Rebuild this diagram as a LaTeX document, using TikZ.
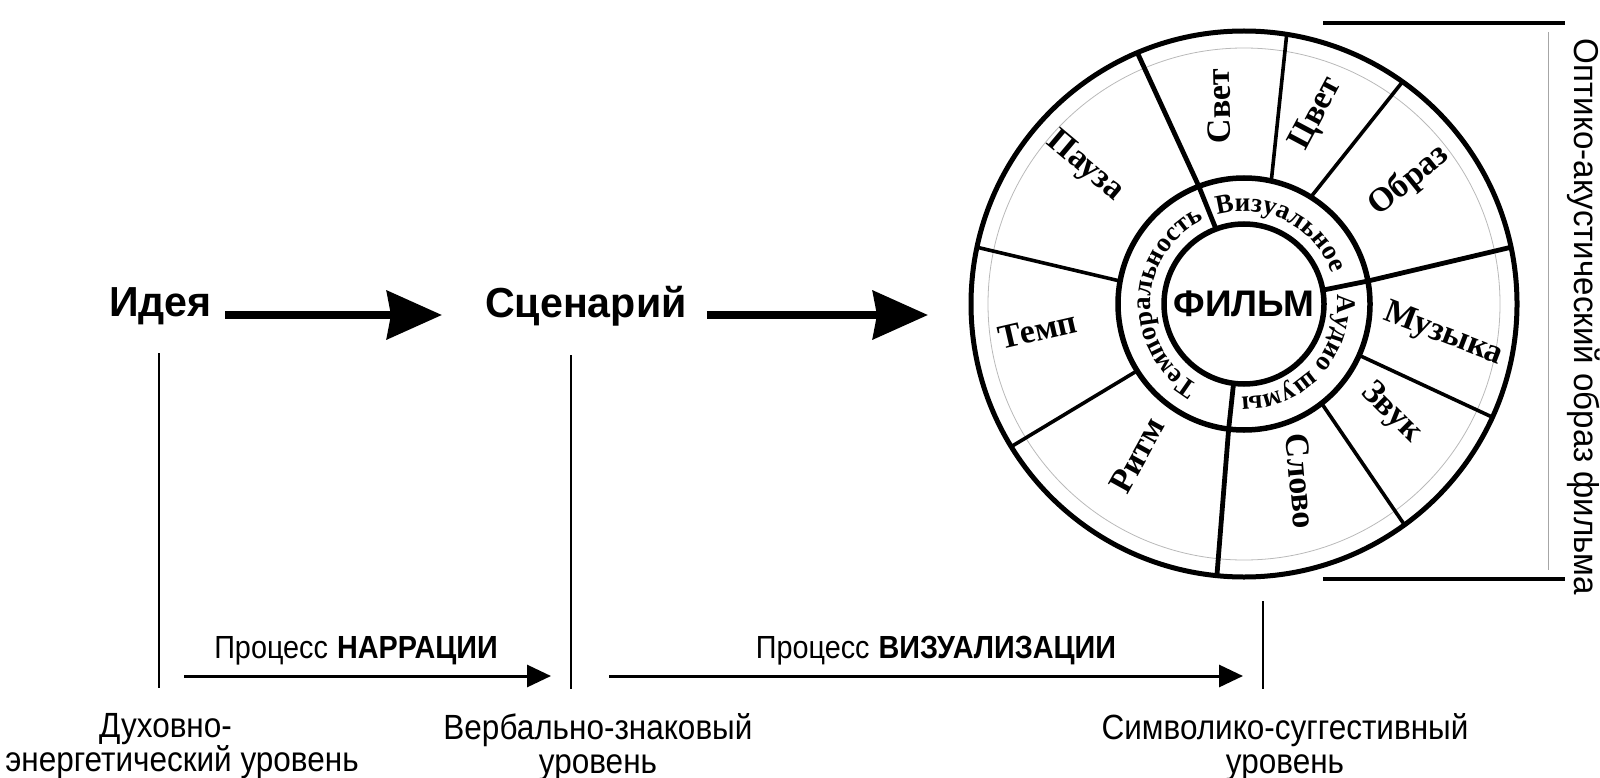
\documentclass[tikz,border=0pt]{standalone}
\usepackage{fontspec}
\setmainfont{Liberation Serif}
\newfontfamily\headsans[FakeStretch=0.98]{Liberation Sans}
\newfontfamily\plainsans{Liberation Sans}
\newfontfamily\vertsans[FakeStretch=0.96]{Liberation Sans}
\newfontfamily\condsans[FakeStretch=0.9]{Liberation Sans}
\usetikzlibrary{arrows.meta,decorations.text}

\tikzset{
  bigarrow/.style={line width=8pt, -{Stealth[length=55pt,width=48pt,inset=4pt]}},
  thinarrow/.style={line width=3pt, -{Triangle[length=24pt,width=22pt]}},
  vline/.style={line width=2.8pt},
  heading/.style={font=\headsans\bfseries\fontsize{42}{46}\selectfont, inner sep=0pt},
  seglabel/.style={font=\bfseries\fontsize{34}{36}\selectfont, inner sep=0pt},
  levellabel/.style={font=\condsans\fontsize{35}{34}\selectfont, align=center, inner sep=0pt, anchor=north},
  proclabel/.style={font=\condsans\fontsize{32}{34}\selectfont, inner sep=0pt, anchor=base},
  ringtext/.style={decorate, decoration={text along path, text align=center,
      text={|\bfseries\fontsize{27}{29}\selectfont|#1}}},
  outdiv/.style={line width=3.6pt},
  indiv/.style={line width=4.8pt},
  bracketline/.style={line width=4pt},
}

\begin{document}
\begin{tikzpicture}[x=1pt,y=1pt]
\useasboundingbox (0,0) rectangle (1600,-778);
\coordinate (C) at (1244,-304);

% ---------- wheel ----------
\node[circle, draw, line width=5pt, minimum size=546pt, inner sep=0pt] (wheel) at (C) {};
\draw[gray!55, line width=0.8pt] (C) circle[radius=256];
\draw[line width=5.5pt] (C) circle[radius=126];
\node[circle, draw, line width=5.5pt, minimum size=160pt, inner sep=0pt,
      font=\plainsans\bfseries\fontsize{37}{40}\selectfont] (film) at (C) {ФИЛЬМ};

\begin{scope}[shift={(C)}]
  % dividers in the middle ring
  \draw[indiv] (110.5:80) -- (111:126);
  \draw[indiv] (10:80) -- (10.5:126);
  \draw[indiv] (-97.5:80) -- (-97:126);
  % dividers in the outer ring
  \draw[indiv]  (111:126) -- (113:273);
  \draw[outdiv] (77.5:126) -- (81:273);
  \draw[outdiv] (58:126) -- (54.5:273);
  \draw[indiv]  (10.5:126) -- (12:273);
  \draw[outdiv] (-24:126) -- (-24.5:273);
  \draw[outdiv] (-52:126) -- (-54:273);
  \draw[indiv]  (-97:126) -- (-95.7:273);
  \draw[outdiv] (212:126) -- (211.5:273);
  \draw[outdiv] (169.5:126) -- (168:273);
  % curved texts
  \path[ringtext=Визуальное] (123:93) arc[start angle=123, end angle=3, radius=93];
  \path[ringtext=Темпоральность] (271:93) arc[start angle=271, end angle=85, radius=93];
  \path[ringtext=Аудио шумы] (25:93) arc[start angle=25, end angle=-111, radius=93];
\end{scope}

% segment labels
\node[seglabel, rotate=91]  (svet)   at (1219,-106) {Свет};
\node[seglabel, rotate=62]  (cvet)   at (1317,-114) {Цвет};
\node[seglabel, rotate=39]  (obraz)  at (1409,-181) {Образ};
\node[seglabel, rotate=-21] (muzyka) at (1443,-335) {Музыка};
\node[seglabel, rotate=-45] (zvuk)   at (1391,-413) {Звук};
\node[seglabel, rotate=-85] (slovo)  at (1301,-481) {Слово};
\node[seglabel, rotate=61]  (ritm)   at (1137,-455) {Ритм};
\node[seglabel, rotate=13]  (temp)   at (1038,-330) {Темп};
\node[seglabel, rotate=-40] (pauza)  at (1085,-167) {Пауза};

% ---------- bracket at the right ----------
\coordinate (brTL) at (1323,-23);
\coordinate (brTR) at (1565,-23);
\coordinate (brBL) at (1323,-579);
\coordinate (brBR) at (1565,-579);
\draw[bracketline] (brTL) -- (brTR);
\draw[bracketline] (brBL) -- (brBR);
\coordinate (gT) at (1548,-32);
\coordinate (gB) at (1548,-570);
\draw[gray!70, line width=1pt] (gT) -- (gB);
\node[font=\vertsans\fontsize{34.5}{36}\selectfont, rotate=-90, inner sep=0pt] (optic) at (1584,-317)
  {Оптико-акустический образ фильма};

% ---------- headings and big arrows ----------
\node[heading, anchor=base west] (idea) at (109,-316) {Идея};
\node[heading, anchor=base west] (scen) at (485,-317) {Сценарий};
\coordinate (a2tip) at (928,-315);
\draw[bigarrow] ([xshift=13pt,yshift=1pt]idea.base east) -- ([xshift=-43pt,yshift=2pt]scen.base west);
\draw[bigarrow] ([xshift=20pt,yshift=2pt]scen.base east) -- (a2tip);

% ---------- vertical level lines ----------
\coordinate (v1t) at (159,-353);  \coordinate (v1b) at (159,-688);
\coordinate (v2t) at (571,-355);  \coordinate (v2b) at (571,-689);
\coordinate (v3t) at (1263,-601); \coordinate (v3b) at (1263,-689);
\draw[vline] (v1t) -- (v1b);
\draw[vline] (v2t) -- (v2b);
\draw[vline] (v3t) -- (v3b);

% ---------- process arrows ----------
\coordinate (p1s) at (184,-676);  \coordinate (p1e) at (551,-676);
\coordinate (p2s) at (609,-676);  \coordinate (p2e) at (1243,-676);
\draw[thinarrow] (p1s) -- (p1e);
\draw[thinarrow] (p2s) -- (p2e);
\node[proclabel] (narr) at (356,-658) {Процесс\hspace{9pt}\textbf{НАРРАЦИИ}};
\node[proclabel] (vizu) at (936,-658) {Процесс\hspace{9pt}\textbf{ВИЗУАЛИЗАЦИИ}};

% ---------- level labels ----------
\node[levellabel] (lv1) at (182,-713) {Духовно-\hspace{33pt}\mbox{}\\энергетический уровень};
\node[levellabel] (lv2) at (598,-713) {Вербально-знаковый\\уровень};
\node[levellabel] (lv3) at (1285,-713) {Символико-суггестивный\\уровень};
\end{tikzpicture}
\end{document}
